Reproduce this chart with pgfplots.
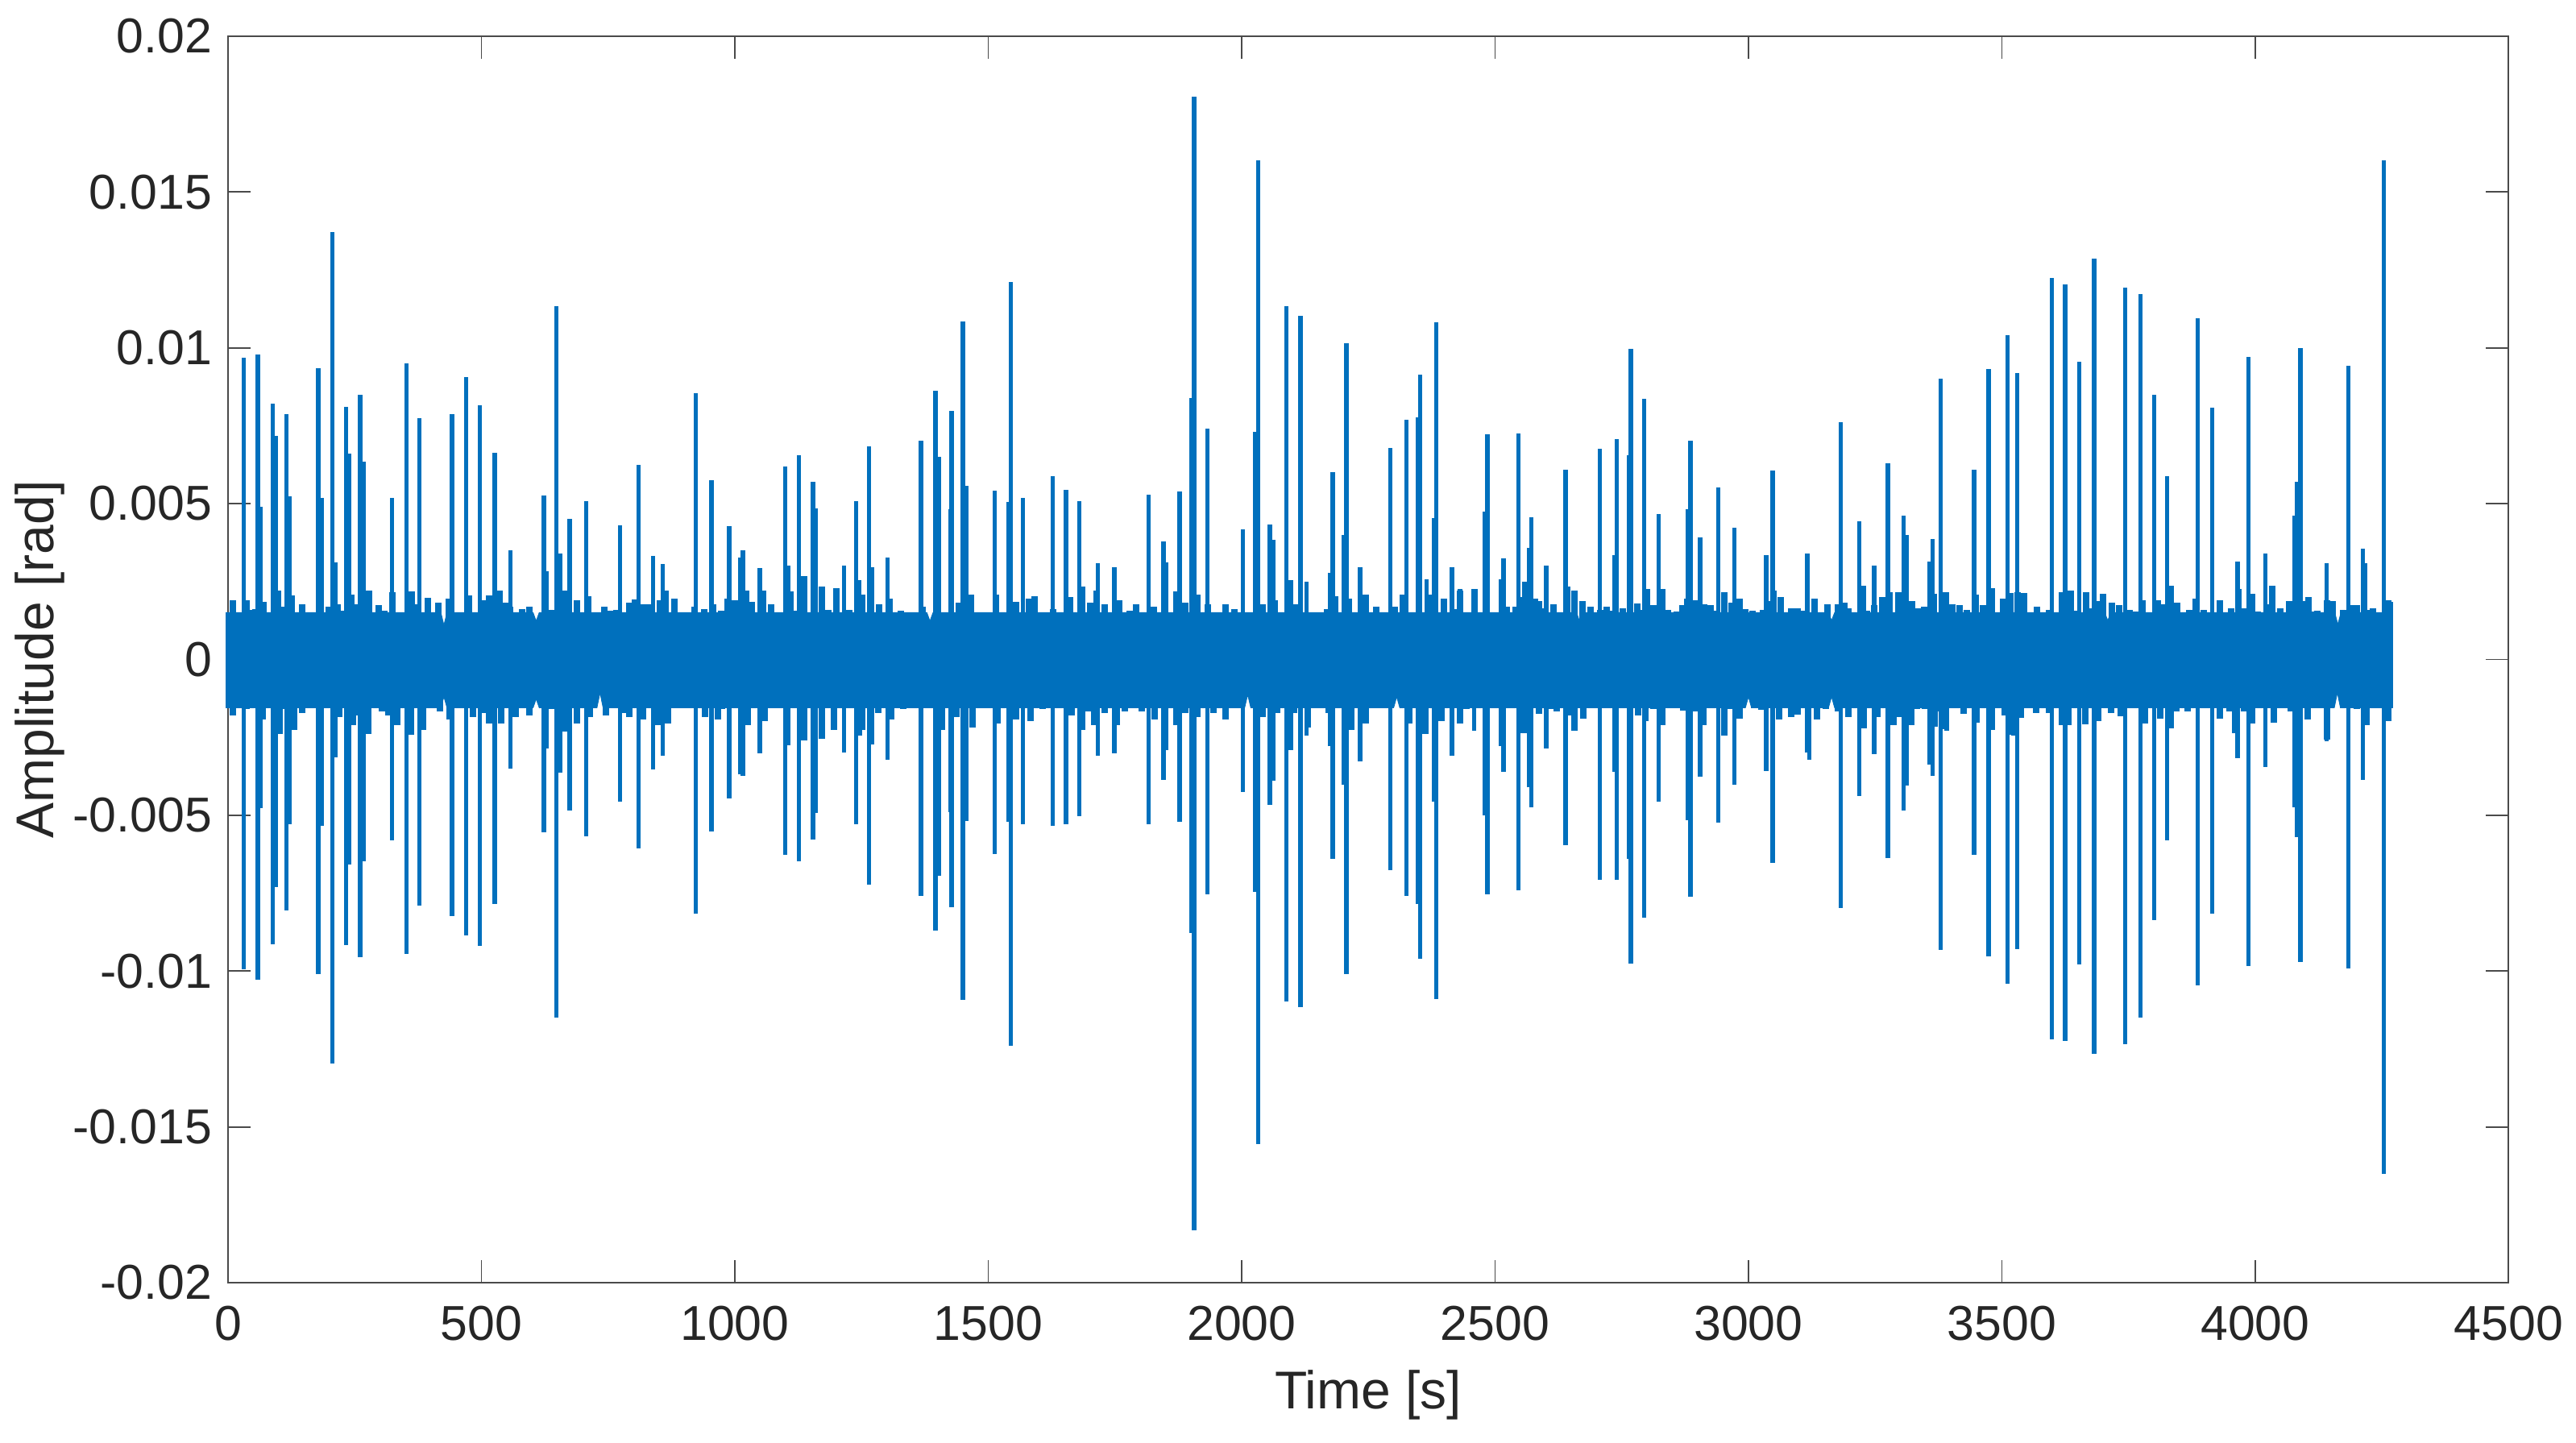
\documentclass[border=0pt]{standalone}
\usepackage{pgfplots}
\pgfplotsset{compat=1.18}
\usepackage{fontspec}
\setmainfont{Liberation Sans}
\definecolor{ml}{HTML}{0070BD}
\definecolor{txt}{HTML}{262626}
\definecolor{axc}{HTML}{4A4A4A}
\begin{document}
\begin{tikzpicture}
\path[use as bounding box] (-70.75pt,-49.5pt) rectangle (728.5pt,398pt);
\begin{axis}[
  at={(0pt,0pt)}, anchor=south west,
  scale only axis, width=707.6pt, height=386.8pt,
  xmin=0, xmax=4500, ymin=-0.02, ymax=0.02,
  clip=false,
  axis line style={color=axc,line width=0.5pt},
  tick style={color=axc,line width=0.45pt},
  tick align=inside, major tick length=7pt,
  xtick={0,500,1000,1500,2000,2500,3000,3500,4000,4500},
  xticklabels={0,500,1000,1500,2000,2500,3000,3500,4000,4500},
  ytick={-0.02,-0.015,-0.01,-0.005,0,0.005,0.01,0.015,0.02},
  yticklabels={-0.02,-0.015,-0.01,-0.005,0,0.005,0.01,0.015,0.02},
  scaled y ticks=false, scaled x ticks=false,
  ticklabel style={font=\fontsize{15.2}{18}\selectfont,text=txt},
  xticklabel style={yshift=-3.6pt},
  yticklabel style={xshift=-1.5pt},
  xlabel={Time [s]}, ylabel={Amplitude [rad]},
  xlabel style={font=\fontsize{16.5}{19}\selectfont,text=txt,at={(rel axis cs:0.5,0)},anchor=base,yshift=-39pt},
  ylabel style={font=\fontsize{16.5}{19}\selectfont,text=txt,at={(rel axis cs:0,0.5)},anchor=base,yshift=54pt},
]
% base of the noise band
\addplot[fill=ml,draw=ml,line width=0.2pt] coordinates {
(-4,0.0015)(420,0.0015)(426,0.0011)(432,0.0015)(602,0.0015)(608,0.00123)(614,0.0015)(1379,0.0015)(1385,0.00123)(1391,0.0015)(2661,0.0015)(2667,0.00121)(2673,0.0015)(3158,0.0015)(3164,0.00125)(3170,0.0015)(3703,0.0015)(3709,0.00125)(3715,0.0015)(4157,0.0015)(4163,0.00112)(4169,0.0015)(4271,0.0015)
} \closedcycle;
\addplot[fill=ml,draw=ml,line width=0.2pt] coordinates {
(-4,-0.00155)(420,-0.00155)(426,-0.0012)(432,-0.00155)(602,-0.00155)(608,-0.00127)(614,-0.00155)(728,-0.00155)(734,-0.00107)(740,-0.00155)(2006,-0.00155)(2012,-0.00113)(2018,-0.00155)(2300,-0.00155)(2306,-0.0012)(2312,-0.00155)(2994,-0.00155)(3000,-0.0012)(3006,-0.00155)(3158,-0.00155)(3164,-0.0012)(3170,-0.00155)(4156,-0.00155)(4162,-0.00107)(4168,-0.00155)(4271,-0.00155)
} \closedcycle;
% noise band, upper edge
\addplot[ycomb,color=ml,line width=2pt,mark=none] coordinates {
(2,0.00149)(10,0.00189)(20,0.00152)(36,0.00189)(45,0.0016)(54,0.00162)(70,0.00185)(81,0.00152)(99,0.0022)(105,0.00169)(126,0.00205)(138,0.00149)(146,0.00176)(156,0.00143)(166,0.00139)(174,0.00152)(189,0.00152)(199,0.00169)(217,0.00178)(225,0.00156)(244,0.00209)(254,0.00176)(278,0.0022)(288,0.00147)(298,0.00173)(308,0.00156)(324,0.00215)(345,0.00149)(362,0.00219)(376,0.00178)(395,0.00198)(406,0.00149)(415,0.00182)(436,0.00194)(450,0.00149)(458,0.00136)(476,0.00205)(491,0.00136)(505,0.00189)(515,0.00205)(535,0.0022)(547,0.00182)(557,0.00169)(580,0.00162)(594,0.00169)(637,0.0016)(665,0.0022)(689,0.00189)(710,0.00202)(730,0.00136)(742,0.00169)(754,0.00156)(766,0.0016)(779,0.00147)(791,0.00182)(803,0.00193)(819,0.00178)(831,0.00176)(852,0.00189)(864,0.00222)(880,0.00196)(892,0.00152)(912,0.00139)(921,0.00169)(939,0.00162)(957,0.00176)(973,0.00156)(986,0.00196)(1000,0.00189)(1022,0.0022)(1033,0.00185)(1055,0.0022)(1071,0.00176)(1087,0.00149)(1110,0.00218)(1119,0.00156)(1137,0.00268)(1172,0.00235)(1184,0.0016)(1200,0.00229)(1225,0.0016)(1251,0.00209)(1284,0.00176)(1306,0.00196)(1328,0.00156)(1357,0.00149)(1370,0.00169)(1409,0.00149)(1442,0.00182)(1466,0.00209)(1486,0.00149)(1499,0.0013)(1515,0.00209)(1531,0.0013)(1555,0.00185)(1580,0.00196)(1592,0.00202)(1616,0.0013)(1628,0.00162)(1641,0.0013)(1661,0.00199)(1685,0.00235)(1701,0.00182)(1714,0.00222)(1730,0.00176)(1742,0.00149)(1758,0.00189)(1779,0.00156)(1791,0.00176)(1803,0.00143)(1827,0.00169)(1847,0.00149)(1872,0.00218)(1888,0.00182)(1912,0.00209)(1933,0.00176)(1957,0.00149)(1969,0.00176)(1985,0.00162)(2002,0.0013)(2018,0.00143)(2042,0.00176)(2066,0.00189)(2107,0.00176)(2139,0.0013)(2168,0.00162)(2184,0.00202)(2212,0.00196)(2245,0.00209)(2265,0.00169)(2282,0.00143)(2302,0.00169)(2318,0.00209)(2342,0.0013)(2375,0.00209)(2399,0.00196)(2419,0.00162)(2431,0.00222)(2444,0.00149)(2460,0.00226)(2472,0.00149)(2496,0.00149)(2504,0.00136)
(2523,0.00168)(2540,0.00168)(2548,0.00199)(2559,0.0025)(2579,0.00194)(2587,0.00186)(2595,0.00164)(2615,0.00177)(2626,0.00151)(2643,0.00233)(2656,0.0022)(2672,0.00186)(2688,0.00168)(2696,0.00147)(2707,0.0016)(2721,0.0017)(2732,0.00155)(2752,0.00164)(2763,0.00147)(2781,0.00179)(2791,0.0016)(2799,0.00225)(2812,0.00175)(2821,0.00151)(2830,0.00225)(2841,0.0016)(2858,0.00153)(2870,0.00173)(2880,0.00194)(2894,0.0019)(2913,0.00177)(2925,0.00173)(2936,0.00155)(2952,0.00216)(2966,0.00181)(2983,0.00194)(2994,0.00162)(3008,0.00155)(3019,0.00151)(3028,0.00158)(3039,0.00186)(3050,0.0022)(3064,0.00199)(3084,0.00164)(3097,0.00164)(3109,0.00155)(3131,0.00196)(3156,0.00177)(3176,0.00177)(3189,0.00181)(3198,0.00164)(3209,0.00147)(3226,0.00237)(3234,0.00155)(3248,0.00173)(3264,0.00199)(3279,0.00216)(3295,0.00216)(3309,0.00211)(3323,0.00186)(3334,0.00164)(3346,0.00168)(3365,0.00211)(3390,0.00216)
(3403,0.00177)(3416,0.00173)(3431,0.00158)(3448,0.00207)(3462,0.00173)(3481,0.00229)(3503,0.00194)(3517,0.00213)(3531,0.00216)(3544,0.00212)(3570,0.0017)(3593,0.00158)(3618,0.00216)(3636,0.0022)(3646,0.00155)(3666,0.00216)(3674,0.00164)(3690,0.00186)(3699,0.00211)(3717,0.00181)(3724,0.00147)(3732,0.00173)(3752,0.00158)(3763,0.00153)(3777,0.0019)(3807,0.0019)(3819,0.00177)(3833,0.00237)(3846,0.00181)(3869,0.00158)(3883,0.00194)(3899,0.0016)(3930,0.0019)(3952,0.00164)(3966,0.00225)(3980,0.00164)(3994,0.00211)(4005,0.00153)(4022,0.00177)(4033,0.00237)(4050,0.00164)(4067,0.00186)(4075,0.00155)(4095,0.00186)(4105,0.00199)(4114,0.00153)(4123,0.00155)(4142,0.0019)(4153,0.00186)(4173,0.0016)(4187,0.00173)(4201,0.00173)(4223,0.0016)(4232,0.00164)(4262,0.0019)(4266,0.00185)
};
% noise band, lower edge
\addplot[ycomb,color=ml,line width=2pt,mark=none] coordinates {
(2,-0.00153)(10,-0.00179)(36,-0.0016)(49,-0.00146)(69,-0.00193)(81,-0.00153)(101,-0.00239)(114,-0.0016)(130,-0.00226)(138,-0.00153)(146,-0.00173)(170,-0.00153)(195,-0.00153)(219,-0.00186)(227,-0.00153)(246,-0.00212)(251,-0.00179)(276,-0.00239)(304,-0.00166)(316,-0.00179)(334,-0.00212)(345,-0.00153)(361,-0.00243)(385,-0.00226)(401,-0.00146)(418,-0.00166)(438,-0.00193)(458,-0.00153)(483,-0.00186)(491,-0.00146)(507,-0.00173)(515,-0.00205)(539,-0.00205)(552,-0.00153)(568,-0.00186)(594,-0.00179)(637,-0.0016)(665,-0.00232)(689,-0.00205)(714,-0.00186)(746,-0.00179)(758,-0.00146)(779,-0.00173)(791,-0.00186)(819,-0.00193)(848,-0.00212)(868,-0.00206)(896,-0.00146)(912,-0.00153)(941,-0.00186)(966,-0.00193)(974,-0.0016)(1026,-0.00212)(1059,-0.00199)(1083,-0.00153)(1115,-0.00146)(1137,-0.00259)(1164,-0.00146)(1172,-0.00256)(1196,-0.00226)(1215,-0.00146)(1245,-0.00245)(1251,-0.00226)(1283,-0.00173)(1292,-0.00146)(1308,-0.00193)(1332,-0.0016)(1357,-0.00146)(1381,-0.00146)(1409,-0.00226)(1438,-0.00186)(1469,-0.00219)(1519,-0.00206)(1531,-0.00153)(1555,-0.00193)(1584,-0.00199)(1608,-0.0016)(1665,-0.00179)(1685,-0.00226)(1697,-0.00166)(1709,-0.00212)(1730,-0.00173)(1754,-0.00212)(1770,-0.00166)(1786,-0.00146)(1803,-0.00166)(1829,-0.00193)(1872,-0.00212)(1888,-0.00173)(1912,-0.00186)(1945,-0.00173)(1969,-0.00193)(1985,-0.00146)(2042,-0.00186)(2070,-0.00173)(2103,-0.00173)(2131,-0.00219)(2139,-0.00153)(2172,-0.00173)(2217,-0.00226)(2245,-0.00206)(2281,-0.00153)(2330,-0.00206)(2362,-0.00239)(2395,-0.00199)(2419,-0.00153)(2431,-0.00206)(2443,-0.0016)(2464,-0.00153)(2523,-0.00153)
(2556,-0.00237)(2587,-0.00176)(2595,-0.00155)(2609,-0.00159)(2621,-0.00168)(2629,-0.00144)(2648,-0.00181)(2656,-0.00228)(2674,-0.00189)(2724,-0.00155)(2752,-0.00155)(2782,-0.00181)(2796,-0.00198)(2813,-0.00159)(2830,-0.00211)(2852,-0.00155)(2872,-0.00165)(2897,-0.00168)(2911,-0.00211)(2927,-0.00155)(2952,-0.00245)(2964,-0.00159)(2983,-0.00189)(3011,-0.00157)(3025,-0.00163)(3061,-0.00194)(3075,-0.00146)(3084,-0.00185)(3092,-0.00146)(3097,-0.00178)(3109,-0.00155)(3136,-0.00194)(3153,-0.00159)(3176,-0.00168)(3198,-0.00185)(3206,-0.00144)(3227,-0.0022)(3237,-0.00146)(3254,-0.00185)(3268,-0.00146)(3287,-0.00211)(3298,-0.00185)(3321,-0.00211)(3332,-0.00159)(3348,-0.00159)(3368,-0.00215)(3373,-0.00168)(3390,-0.00224)
(3409,-0.00157)(3425,-0.00175)(3450,-0.00202)(3459,-0.00155)(3481,-0.00226)(3506,-0.00181)(3520,-0.00241)(3537,-0.00187)(3568,-0.00172)(3593,-0.00172)(3618,-0.00211)(3632,-0.00211)(3643,-0.00144)(3665,-0.00209)(3674,-0.00155)(3690,-0.00198)(3715,-0.00172)(3735,-0.00183)(3782,-0.00207)(3791,-0.0015)(3813,-0.00189)(3833,-0.0022)(3844,-0.00168)(3866,-0.00168)(3930,-0.00189)(3939,-0.00155)(3950,-0.00168)(3961,-0.00237)(3978,-0.00168)(3994,-0.00207)(4005,-0.00146)(4036,-0.00202)(4053,-0.0015)(4070,-0.00168)(4103,-0.00194)(4123,-0.00155)(4142,-0.00258)(4176,-0.00146)(4201,-0.00159)(4220,-0.00211)(4240,-0.00142)(4262,-0.00198)
};
% positive spikes
\addplot[ycomb,color=ml,line width=1.35pt,mark=none] coordinates {
(31,0.00968)(59,0.00978)(64,0.0049)(88,0.0082)(94,0.00717)(115,0.00787)(122,0.00523)(178,0.00934)(185,0.00519)(206,0.0137)(212,0.00312)(233,0.0081)(239,0.0066)(261,0.0085)(268,0.00635)(324,0.00517)(352,0.0095)(378,0.00773)(442,0.00786)(470,0.00906)(497,0.00816)(526,0.00662)(557,0.00351)(623,0.00526)(629,0.00284)(648,0.01133)(655,0.00339)(674,0.0045)(707,0.00507)(773,0.00431)(810,0.00625)(839,0.00333)(858,0.00306)(923,0.00853)(954,0.00575)(989,0.00427)(1010,0.00328)(1016,0.00351)(1049,0.00293)(1099,0.0062)(1106,0.003)(1126,0.00654)(1154,0.00569)(1160,0.00485)(1215,0.003)(1239,0.00507)(1245,0.00255)
(1265,0.00684)(1271.5,0.00297)(1301,0.00328)(1367,0.00701)(1396,0.00863)(1402,0.00651)(1425,0.00482)(1428,0.00797)(1450,0.01083)(1456.4,0.00556)(1512.4,0.00542)(1540,0.00506)(1545,0.01211)(1568.4,0.00517)(1627,0.00587)(1653.5,0.00544)(1679.5,0.00507)(1716,0.00308)(1749,0.00296)(1816,0.00528)(1846,0.00379)(1851.5,0.00312)(1877.4,0.00538)(1901,0.00839)(1906,0.01805)(1932.6,0.00741)(2002.4,0.00417)(2026.7,0.00731)(2032.4,0.01602)(2056,0.00433)(2062,0.00384)(2088.4,0.01133)(2097,0.00255)(2116,0.01103)(2128,0.0025)(2174.3,0.00277)(2180,0.00601)(2202,0.00398)(2207,0.01015)(2234,0.00297)(2293.6,0.00678)(2325,0.0077)(2348,0.00777)(2352,0.00914)(2365,0.00258)(2379.5,0.00453)(2384.4,0.01081)(2415.2,0.00297)(2431,0.00225)(2459,0.00225)(2480,0.00473)(2485,0.00723)(2511,0.00258)(2517,0.00324)
(2546.4,0.00724)(2566.5,0.00358)(2572,0.00457)(2601,0.00301)(2639,0.00609)(2707,0.00675)(2736,0.00334)(2740.5,0.00707)(2764,0.00655)(2768,0.00997)(2794,0.00836)(2823,0.00466)(2880,0.00483)(2885.5,0.00701)(2904.5,0.00391)(2940,0.00553)(2972.5,0.00423)(3035,0.00334)(3048,0.00605)(3116,0.00341)(3182,0.00762)(3219,0.00443)(3248,0.00301)(3275,0.0063)(3306,0.00461)(3311.5,0.00398)(3357,0.00314)(3363,0.00387)(3379.6,0.009)(3445,0.00608)(3474,0.00931)(3511,0.0104)(3530,0.00919)(3599,0.01223)(3625,0.01202)(3653,0.00954)(3682,0.01287)(3743,0.01192)(3774,0.01173)(3801,0.00849)(3826,0.00589)(3886,0.01094)(3915,0.00808)(3965,0.00313)(3987,0.00971)(4020,0.00339)(4034,0.00235)(4078,0.0046)(4083,0.00569)(4089,0.00999)(4141,0.00309)(4184,0.00941)(4212,0.00354)(4217,0.00308)(4254,0.01602)
};
% negative spikes
\addplot[ycomb,color=ml,line width=1.35pt,mark=none] coordinates {
(31,-0.00995)(59,-0.01029)(64,-0.00478)(88,-0.00914)(94,-0.0073)(115,-0.00806)(122,-0.00528)(178,-0.0101)(185,-0.00533)(206,-0.01298)(212,-0.00314)(233,-0.00916)(239,-0.00657)(261,-0.00955)(268,-0.00648)(324,-0.0058)(352,-0.00946)(361,-0.00243)(378,-0.0079)(442,-0.00823)(470,-0.00885)(497,-0.0092)(526,-0.00784)(557,-0.0035)(623,-0.00555)(629,-0.00285)(648,-0.0115)(655,-0.00363)(674,-0.00485)(707,-0.00567)(773,-0.00456)(810,-0.00607)(839,-0.00352)(858,-0.00309)(923,-0.00817)(954,-0.00553)(989,-0.00446)(1010,-0.00368)(1016,-0.00375)(1049,-0.00302)(1099,-0.00627)(1106,-0.00276)(1126,-0.00649)(1154,-0.00578)(1160,-0.00492)(1215,-0.00298)(1239,-0.00528)
(1265,-0.00723)(1271.5,-0.00274)(1301,-0.00323)(1367,-0.0076)(1396,-0.00869)(1402,-0.00695)(1425,-0.00489)(1428,-0.00796)(1450,-0.01092)(1456.4,-0.00518)(1512.4,-0.00624)(1540,-0.00522)(1545,-0.01239)(1568.4,-0.00528)(1627,-0.00534)(1653.5,-0.00528)(1679.5,-0.00503)(1716,-0.0031)(1749,-0.00302)(1816,-0.0053)(1846,-0.00387)(1851.5,-0.0029)(1877.4,-0.0052)(1901,-0.00879)(1906,-0.01831)(1932.6,-0.00753)(2002.4,-0.00425)(2026.7,-0.00747)(2032.4,-0.01555)(2056,-0.00468)(2062,-0.0039)(2088.4,-0.01098)(2097,-0.0029)(2116,-0.01116)(2128,-0.00245)(2174.3,-0.00278)(2180,-0.00639)(2202,-0.00401)(2207,-0.01011)(2234,-0.00327)(2293.6,-0.00677)(2325,-0.00759)(2348,-0.00786)(2352,-0.0096)(2365,-0.0024)(2379.5,-0.00456)(2384.4,-0.0109)(2415.2,-0.00309)(2431,-0.00206)(2459,-0.00228)(2480,-0.005)(2485,-0.00753)(2511,-0.00278)(2517,-0.0036)
(2546.4,-0.0074)(2566.5,-0.0041)(2572,-0.00475)(2601,-0.00285)(2639,-0.00595)(2654.6,-0.0023)(2707,-0.00707)(2736,-0.0036)(2740.5,-0.00707)(2764,-0.00641)(2768,-0.00976)(2794,-0.00828)(2823,-0.00457)(2880,-0.00516)(2885.5,-0.00761)(2904.5,-0.00377)(2940,-0.00524)(2952,-0.00245)(2972.5,-0.00402)(3035,-0.00359)(3048,-0.00652)(3116,-0.003)(3120,-0.00323)(3182,-0.00799)(3219,-0.00438)(3248,-0.00305)(3275,-0.00637)(3306,-0.00486)(3311.5,-0.00404)(3357,-0.00338)(3363,-0.00375)(3379.6,-0.00931)(3391,-0.00228)(3445,-0.00627)(3474,-0.00954)(3511,-0.01042)(3522,-0.00245)(3530,-0.0093)(3599,-0.01219)(3625,-0.01224)(3653,-0.0098)(3682,-0.01265)(3743,-0.01234)(3774,-0.0115)(3801,-0.00836)(3826,-0.0058)(3886,-0.01045)(3915,-0.00815)(3965,-0.00317)(3987,-0.00985)(4020,-0.00346)(4078,-0.00474)(4083,-0.00571)(4089,-0.00972)(4141,-0.00263)(4184,-0.00991)(4212,-0.00388)(4254,-0.0165)
};
\end{axis}
\end{tikzpicture}
\end{document}
